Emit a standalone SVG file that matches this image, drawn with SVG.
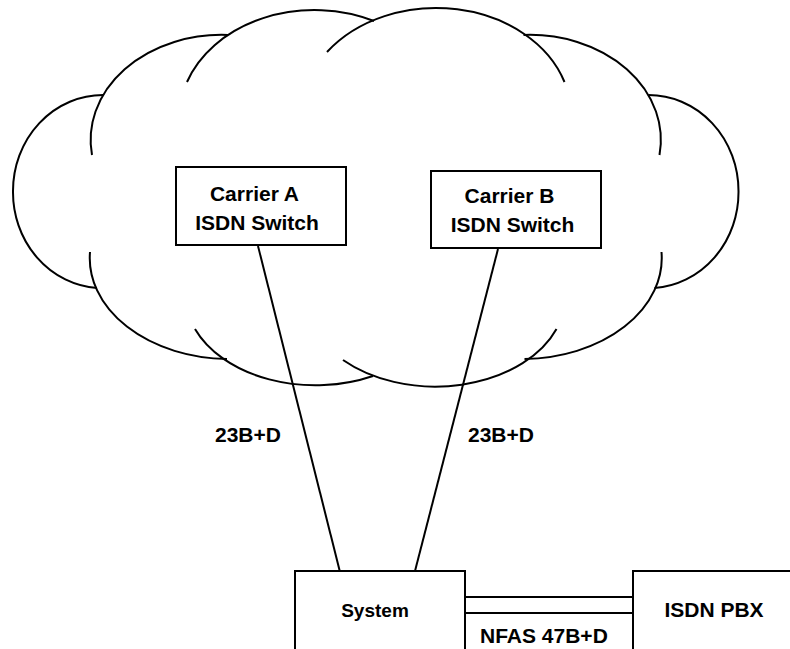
<svg xmlns="http://www.w3.org/2000/svg" width="790" height="649" viewBox="0 0 790 649">
<style>
.cl{fill:none;stroke:#000;stroke-width:2}
.box{fill:#fff;stroke:#000;stroke-width:2}
.ln{stroke:#000;stroke-width:2;fill:none}
.t{font-family:"Liberation Sans",Arial,sans-serif;font-weight:bold;font-size:21px;fill:#000}
.m{text-anchor:middle}
</style>
<rect width="790" height="649" fill="#fff"/>
<g id="cloud">
<path class="cl" d="M103,95 A90,96 0 0 0 13,191 A90,96 0 0 0 97,288"/>
<path class="cl" d="M92,155 A131,105 0 0 1 228,35"/>
<path class="cl" d="M187,82 A135,107 0 0 1 374,21"/>
<path class="cl" d="M327,52 A135,107 0 0 1 564.5,82"/>
<path class="cl" d="M523.5,35 A131,105 0 0 1 659.5,155"/>
<path class="cl" d="M648.5,95 A90,96 0 0 1 738.5,191 A90,96 0 0 1 654.5,288"/>
<path class="cl" d="M90,252 A140,101 0 0 0 227,359"/>
<path class="cl" d="M195,329 A130,90 0 0 0 373,376"/>
<path class="cl" d="M343,360 A130,90 0 0 0 556.5,329"/>
<path class="cl" d="M524.5,359 A140,101 0 0 0 661.5,252"/>
</g>
<g id="connectors">
<line class="ln" x1="258" y1="246" x2="340" y2="572"/>
<line class="ln" x1="498" y1="249" x2="415" y2="571"/>
<line class="ln" x1="464" y1="597" x2="634" y2="597"/>
<line class="ln" x1="464" y1="613" x2="634" y2="613"/>
<text class="t" x="215" y="442">23B+D</text>
<text class="t" x="468" y="442">23B+D</text>
<text class="t" x="480" y="643">NFAS 47B+D</text>
</g>
<g id="carrierA">
<rect class="box" x="176" y="167" width="170" height="78"/>
<text class="t m" x="254.5" y="201">Carrier A</text>
<text class="t m" x="257" y="230">ISDN Switch</text>
</g>
<g id="carrierB">
<rect class="box" x="431" y="171" width="170" height="77"/>
<text class="t m" x="509.5" y="203">Carrier B</text>
<text class="t m" x="512.5" y="231.5">ISDN Switch</text>
</g>
<g id="system">
<rect class="box" x="295" y="571" width="170" height="100"/>
<text class="t m" x="375" y="617" style="font-size:19px">System</text>
</g>
<g id="pbx">
<rect class="box" x="633" y="571" width="180" height="100"/>
<text class="t m" x="714" y="617">ISDN PBX</text>
</g>
</svg>
